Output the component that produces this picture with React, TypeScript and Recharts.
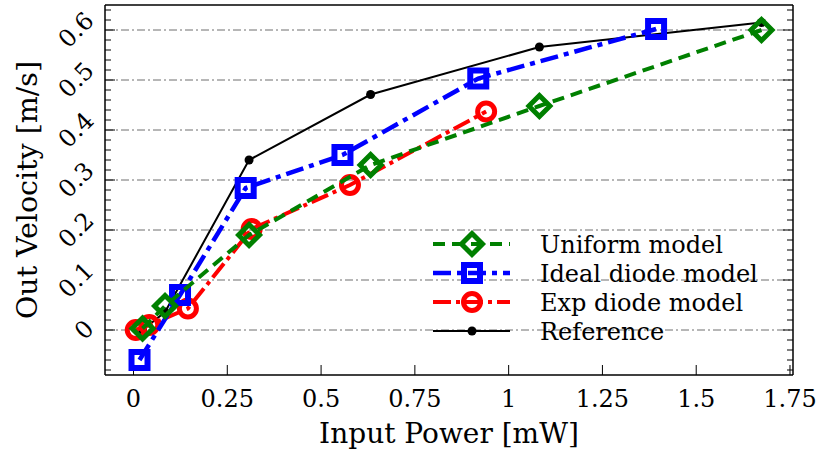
import { ScatterChart, Scatter, XAxis, YAxis, CartesianGrid, Legend } from 'recharts';

const FONT = 'DejaVu Serif';

// values (x in mW, y in m/s)
const uniformX = [0.024, 0.084, 0.308, 0.632, 1.082, 1.674];
const uniformY = [0.003, 0.048, 0.19, 0.33, 0.448, 0.6];
const idealX = [0.016, 0.124, 0.299, 0.557, 0.919, 1.393];
const idealY = [-0.06, 0.07, 0.284, 0.35, 0.503, 0.602];
const expX = [0.006, 0.042, 0.145, 0.315, 0.577, 0.94];
const expY = [0.0, 0.01, 0.043, 0.202, 0.29, 0.437];
const refX = [0.024, 0.084, 0.308, 0.632, 1.082, 1.674];
const refY = [0.0, 0.036, 0.34, 0.471, 0.566, 0.615];

const xTicks = [0, 0.25, 0.5, 0.75, 1, 1.25, 1.5, 1.75];
const yTicks = [0, 0.1, 0.2, 0.3, 0.4, 0.5, 0.6];
const yMinorTicks = [
  -0.08, -0.06, -0.04, -0.02, 0, 0.02, 0.04, 0.06, 0.08, 0.1, 0.12, 0.14, 0.16, 0.18, 0.2, 0.22,
  0.24, 0.26, 0.28, 0.3, 0.32, 0.34, 0.36, 0.38, 0.4, 0.42, 0.44, 0.46, 0.48, 0.5, 0.52, 0.54,
  0.56, 0.58, 0.6, 0.62, 0.64,
];

const xDomain = [-0.076, 1.758];
const yDomain = [-0.09, 0.65];

const toPoints = (xs: number[], ys: number[]) => xs.map((x, i) => ({ x, y: ys[i] }));

type Kind = 'diamond' | 'square' | 'circle' | 'dot';

const series = [
  { name: 'Uniform model', color: '#008000', dash: '12 7', width: 4, kind: 'diamond' as Kind },
  { name: 'Ideal diode model', color: '#0000ff', dash: '18 6 5 6', width: 4.5, kind: 'square' as Kind },
  { name: 'Exp diode model', color: '#ff0000', dash: '18 5 4 5', width: 4, kind: 'circle' as Kind },
  { name: 'Reference', color: '#000000', dash: undefined, width: 2, kind: 'dot' as Kind },
];

function Marker({ cx, cy, kind, color }: { cx: number; cy: number; kind: Kind; color: string }) {
  if (kind === 'diamond') {
    const r = 10.5;
    return (
      <path
        d={`M${cx},${cy - r}L${cx + r},${cy}L${cx},${cy + r}L${cx - r},${cy}Z`}
        fill="none"
        stroke={color}
        strokeWidth={5}
      />
    );
  }
  if (kind === 'square') {
    return <rect x={cx - 8} y={cy - 8} width={16} height={16} fill="none" stroke={color} strokeWidth={6} />;
  }
  if (kind === 'circle') {
    return <circle cx={cx} cy={cy} r={8.5} fill="none" stroke={color} strokeWidth={5} />;
  }
  return <circle cx={cx} cy={cy} r={4.5} fill={color} />;
}

const shapeFor = (kind: Kind, color: string) => (p: any) => (
  <Marker cx={p.cx} cy={p.cy} kind={kind} color={color} />
);

const isMajor = (v: number) => yTicks.some((t) => Math.abs(t - v) < 1e-9);

// rough glyph widths for DejaVu Serif, to place the rotated y tick labels
const textWidth = (s: string, size: number) =>
  s.split('').reduce((w, c) => w + (c === '.' ? 0.318 : 0.636) * size, 0);

// left axis: inward tick lines (major + minor) and rotated labels on majors
function LeftTick(props: any) {
  const { x, y, payload } = props;
  const v = payload.value as number;
  const major = isMajor(v);
  const len = major ? 10 : 6;
  let label = null;
  if (major) {
    const txt = v === 0 ? '0' : String(v);
    const bw = (textWidth(txt, 24) + 18) * 0.707;
    const cx = x - 9 - bw / 2;
    label = (
      <text
        x={cx}
        y={y}
        textAnchor="middle"
        dominantBaseline="central"
        fontFamily={FONT}
        fontSize={24}
        fill="#000"
        transform={`rotate(-45 ${cx} ${y})`}
      >
        {txt}
      </text>
    );
  }
  return (
    <g>
      <line x1={x} x2={x + len} y1={y} y2={y} stroke="#000" strokeWidth={1} />
      {label}
    </g>
  );
}

function RightTick(props: any) {
  const { x, y, payload } = props;
  const len = isMajor(payload.value) ? 10 : 6;
  return <line x1={x} x2={x - len} y1={y} y2={y} stroke="#000" strokeWidth={1} />;
}

// horizontal grid only at the labelled y ticks
const gridRows = ({ offset }: any) =>
  yTicks.map((v) => offset.top + ((yDomain[1] - v) / (yDomain[1] - yDomain[0])) * offset.height);

function LegendBox() {
  return (
    <svg width={380} height={130}>
      {series.map((s, i) => {
        const cy = 19 + i * 29;
        return (
          <g key={s.name}>
            <line
              x1={13}
              x2={90}
              y1={cy}
              y2={cy}
              stroke={s.color}
              strokeWidth={s.width}
              strokeDasharray={s.dash}
            />
            <Marker cx={52} cy={cy} kind={s.kind} color={s.color} />
            <text x={120} y={cy + 8.5} fontFamily={FONT} fontSize={24} fill="#000">
              {s.name}
            </text>
          </g>
        );
      })}
    </svg>
  );
}

const dataFor = [
  toPoints(uniformX, uniformY),
  toPoints(idealX, idealY),
  toPoints(expX, expY),
  toPoints(refX, refY),
];

// draw order: reference first, uniform on top
const drawOrder = [3, 2, 1, 0];

export default function App() {
  return (
    <div style={{ position: 'absolute', left: 0, top: 0, width: 827, height: 454, background: '#fff' }}>
      <ScatterChart width={827} height={454} margin={{ top: 4, right: 33, bottom: 78, left: 104 }}>
        <CartesianGrid
          xAxisId="x"
          yAxisId="y"
          vertical={false}
          horizontalCoordinatesGenerator={gridRows}
          stroke="#6f6f6f"
          strokeDasharray="8 3 2 3"
        />
        <XAxis
          xAxisId="x"
          dataKey="x"
          type="number"
          domain={xDomain}
          allowDataOverflow
          ticks={xTicks}
          interval={0}
          height={1}
          tickSize={-10}
          tickMargin={25}
          axisLine={{ stroke: '#000', strokeWidth: 1.5 }}
          tickLine={{ stroke: '#000' }}
          tick={{ fontSize: 24, fill: '#000', fontFamily: FONT }}
          label={{
            value: 'Input Power [mW]',
            position: 'bottom',
            offset: 47,
            fontSize: 28,
            fill: '#000',
            fontFamily: FONT,
          }}
        />
        <XAxis
          xAxisId="xt"
          orientation="top"
          type="number"
          domain={xDomain}
          allowDataOverflow
          ticks={xTicks}
          interval={0}
          height={1}
          tickSize={-10}
          tick={false}
          axisLine={{ stroke: '#000', strokeWidth: 1.5 }}
          tickLine={{ stroke: '#000' }}
        />
        <YAxis
          yAxisId="y"
          dataKey="y"
          type="number"
          domain={yDomain}
          allowDataOverflow
          ticks={yMinorTicks}
          interval={0}
          width={1}
          tickSize={0}
          tickMargin={0}
          axisLine={{ stroke: '#000', strokeWidth: 1.5 }}
          tickLine={false}
          tick={<LeftTick />}
        />
        <YAxis
          yAxisId="yr"
          orientation="right"
          type="number"
          domain={yDomain}
          allowDataOverflow
          ticks={yMinorTicks}
          interval={0}
          width={1}
          tickSize={0}
          tickMargin={0}
          axisLine={{ stroke: '#000', strokeWidth: 1.5 }}
          tickLine={false}
          tick={<RightTick />}
        />
        {drawOrder.map((i) => {
          const s = series[i];
          return (
            <Scatter
              key={s.name}
              name={s.name}
              xAxisId="x"
              yAxisId="y"
              data={dataFor[i]}
              fill={s.color}
              line={{ stroke: s.color, strokeWidth: s.width, strokeDasharray: s.dash }}
              shape={shapeFor(s.kind, s.color)}
              isAnimationActive={false}
            />
          );
        })}
        <text
          x={37}
          y={190}
          transform="rotate(-90 37 190)"
          textAnchor="middle"
          fontFamily={FONT}
          fontSize={28}
          textLength={258}
          lengthAdjust="spacingAndGlyphs"
          fill="#000"
        >
          Out Velocity [m/s]
        </text>
        <Legend
          layout="vertical"
          align="center"
          verticalAlign="middle"
          wrapperStyle={{ left: 420, top: 225, width: 380, height: 130 }}
          content={() => <LegendBox />}
        />
      </ScatterChart>
    </div>
  );
}
